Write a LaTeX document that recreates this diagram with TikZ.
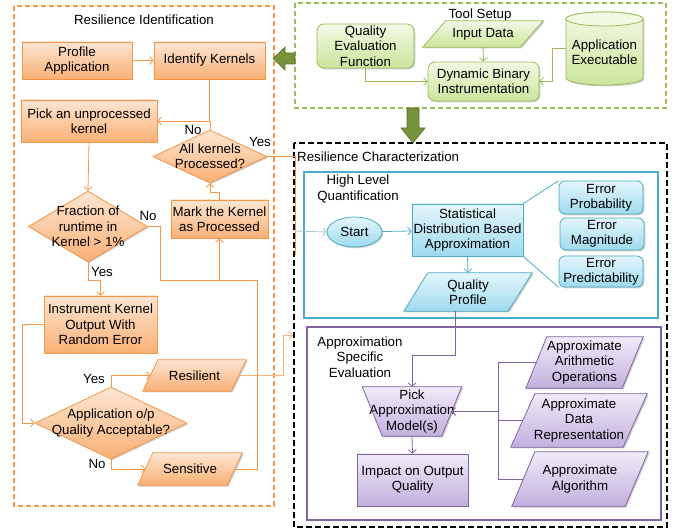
\documentclass[tikz,border=0pt]{standalone}
\usepackage{fontspec}
\setmainfont{Liberation Sans}
\usetikzlibrary{shapes.geometric,arrows.meta,shadows}
\definecolor{ob}{RGB}{247,150,70}
\definecolor{otop}{RGB}{253,230,210}
\definecolor{obot}{RGB}{249,176,118}
\definecolor{gb}{RGB}{155,187,89}
\definecolor{gtop}{RGB}{242,249,228}
\definecolor{gbot}{RGB}{204,229,156}
\definecolor{bb}{RGB}{75,172,198}
\definecolor{btop}{RGB}{228,246,252}
\definecolor{bbot}{RGB}{158,218,238}
\definecolor{pb}{RGB}{128,100,162}
\definecolor{ptop}{RGB}{240,235,248}
\definecolor{pbot}{RGB}{194,176,222}
\definecolor{garrow}{RGB}{119,147,60}
\definecolor{garrowd}{RGB}{90,114,44}
\definecolor{fade}{RGB}{170,200,210}
\newcommand{\dfont}{\fontsize{13.3pt}{15.3pt}\selectfont}
\tikzset{
  txt/.style={inner sep=0pt,align=center,font=\dfont,text=black},
  shd/.style={drop shadow={shadow xshift=1.3pt,shadow yshift=-1.3pt,opacity=0.28,fill=black!70}},
  ofill/.style={draw=ob,line width=0.8pt,top color=otop,bottom color=obot,shd},
  gfill/.style={draw=gb,line width=0.8pt,top color=gtop,bottom color=gbot,shd},
  bfill/.style={draw=bb,line width=0.8pt,top color=btop,bottom color=bbot,shd},
  pfill/.style={draw=pb,line width=0.8pt,top color=ptop,bottom color=pbot,shd},
  oline/.style={draw=ob,line width=0.8pt},
  gline/.style={draw=gb,line width=0.8pt},
  bline/.style={draw=bb,line width=0.8pt},
  pline/.style={draw=pb,line width=0.8pt},
  arr/.style={-{Straight Barb[length=3.5pt,width=8pt]}},
  frame/.style={line width=1.8pt,dash pattern=on 5pt off 3pt},
}
\newcommand{\bnode}[6]{\node[#1,inner sep=0pt,minimum width=#4pt,minimum height=#5pt] (#2) at (#3) {};
  \node[txt] (#2t) at (#2) {#6};}
\newcommand{\pgram}[7]{\node[inner sep=0pt,minimum width={(#4-#6)*1pt},minimum height=#5pt] (#2) at (#3) {};
  \path[#1] ([xshift={-#6*0.5pt}]#2.south west) -- ([xshift={#6*0.5pt}]#2.north west)
    -- ([xshift={#6*0.5pt}]#2.north east) -- ([xshift={-#6*0.5pt}]#2.south east) -- cycle;
  \node[txt] (#2t) at (#2) {#7};}
\begin{document}
\begin{tikzpicture}[x=1pt,y=-1pt]
\useasboundingbox[fill=white] (0,0) rectangle (678,529);
% frames
\draw[frame,ob] (14,6) rectangle (274,506);
\draw[frame,gb] (295,3) rectangle (666,108);
\draw[line width=2pt,dash pattern=on 6pt off 3pt,black] (294,143) rectangle (667,527);
\draw[bb,line width=1.8pt] (304,172) rectangle (658,318);
\draw[pb,line width=1.8pt] (307,327) rectangle (661,520);
\node[txt] (tRI) at (144,20) {Resilience Identification};
\node[txt] (tTS) at (480,15) {Tool Setup};
\node[txt,anchor=west] (tRC) at (297,157) {Resilience Characterization};
\node[txt] (tHL) at (358,189) {High Level\\Quantification};
\node[txt] (tAS) at (360,357) {Approximation\\Specific\\Evaluation};
% big green arrows
\filldraw[fill=garrow,draw=garrowd,line width=0.6pt] (295,53) -- (285,53) -- (285,47) -- (273,58.5) -- (285,70) -- (285,64) -- (295,64) -- cycle;
\filldraw[fill=garrow,draw=garrowd,line width=0.6pt] (407,108) -- (419,108) -- (419,128) -- (425,128) -- (413,143) -- (401,128) -- (407,128) -- cycle;
% tool setup
\bnode{gfill,rounded corners=7pt}{qef}{365.5,46}{97}{44}{Quality\\Evaluation\\Function}
\pgram{gfill}{inp}{483,34}{120}{26}{23}{Input Data}
\bnode{gfill,rounded corners=7pt}{dbi}{483.5,81.5}{111}{39}{Dynamic Binary\\Instrumentation}
\node[inner sep=0pt,minimum width=77pt,minimum height=73pt] (exe) at (604.5,48.5) {};
\path[gfill] (566,19) -- (566,78) arc[start angle=180,end angle=360,x radius=38.5pt,y radius=7pt]
  -- (643,19) arc[start angle=0,end angle=180,x radius=38.5pt,y radius=7pt] -- cycle;
\draw[gb,line width=0.8pt,fill=gtop] (604.5,19) ellipse [x radius=38.5pt,y radius=7pt];
\node[txt] (exet) at (604.5,52) {Application\\Executable};
\draw[gline,arr] (qef.south) |- (dbi.west);
\draw[gline,arr] (inp.south) -- (dbi.north);
\draw[gline,arr] (exe.west) -- ++(-13,0) |- (dbi.east);
% resilience identification
\bnode{ofill}{prof}{77,60.5}{110}{37}{Profile\\Application}
\bnode{ofill}{idk}{209.5,60.5}{111}{37}{Identify Kernels}
\bnode{ofill}{pick}{89,121}{136}{42}{Pick an unprocessed\\kernel}
\bnode{ofill,shape=diamond}{d1}{210,156.5}{114}{53}{All kernels\\Processed?}
\bnode{ofill,shape=diamond}{frac}{88,226.5}{119}{71}{Fraction of\\runtime in\\Kernel > 1\%}
\bnode{ofill}{mark}{219.5,219}{97}{38}{Mark the Kernel\\as Processed}
\bnode{ofill}{inst}{100.5,324.5}{113}{57}{Instrument Kernel\\Output With\\Random Error}
\pgram{ofill}{res}{194.5,375.5}{103}{31}{15}{Resilient}
\bnode{ofill,shape=diamond}{app}{111,423}{152}{72}{Application o/p\\Quality Acceptable?}
\pgram{ofill}{sens}{190,469}{104}{32}{15}{Sensitive}
\draw[oline,arr] (prof) -- (idk);
\draw[oline] (idk.south) -- (idk.south |- pick.east);
\draw[oline,arr] (d1.north) -- (d1.north |- pick.east) -- (pick.east);
\node[txt] (noA) at (193,130) {No};
\node[txt] (yesA) at (260,142) {Yes};
\coordinate (cYes) at (295,255);
\draw[oline] (d1.east) -| (cYes);
\draw[oline,arr] (pick.south) -- (frac.north);
\node[txt] (noB) at (148,216) {No};
\coordinate (jn) at (219.5,280);
\draw[oline] (frac.east) -| (160,280) -- (jn);
\draw[oline,arr] (sens.east) -| (257,280) -- (jn) -- (mark.south);
\draw[oline,arr] (mark.north) -- ++(0,-7) -| (d1.south);
\draw[oline,arr] (frac.south) -- ++(0,18) -| (inst.north);
\node[txt] (yesB) at (102,272) {Yes};
\draw[oline,arr] (inst.west) -- ++(-21,0) |- (app.west);
\draw[oline,arr] (app.north) |- (res.west);
\draw[oline,arr] (app.south) |- (sens.west);
\node[txt] (yesC) at (94,379) {Yes};
\node[txt] (noC) at (97,464) {No};
\coordinate (resEnd) at (293,335);
\draw[draw=ob!70,line width=0.8pt,arr] (res.east) -| (283,335) -- (resEnd);
% high level quantification
\bnode{bfill,shape=ellipse}{start}{354.5,232}{55}{30}{Start}
\bnode{bfill}{sdba}{467.5,230}{111}{52}{Statistical\\Distribution Based\\Approximation}
\bnode{bfill,rounded corners=6pt}{ep}{601,197.5}{84}{33}{Error\\Probability}
\bnode{bfill,rounded corners=6pt}{em}{602,234}{84}{32}{Error\\Magnitude}
\bnode{bfill,rounded corners=6pt}{epr}{601,271.5}{84}{31}{Error\\Predictability}
\pgram{bfill}{qp}{468,292}{128}{38}{24}{Quality\\Profile}
\coordinate (cStart) at (295,231);
\draw[draw=fade,line width=0.8pt,arr] (cStart) -- (start.west);
\draw[bline,arr] (start) -- (sdba);
\draw[bline] (sdba.north east) -- (ep.north west);
\draw[bline] (sdba.south east) -- (epr.south west);
\draw[bline,arr] (sdba.south) -- (qp.north);
% approximation specific evaluation
\node[inner sep=0pt,minimum width=79pt,minimum height=49pt] (pk) at (412,411.5) {};
\path[pfill] ([xshift=-10pt]pk.north west) -- ([xshift=10pt]pk.north east)
  -- ([xshift=-10pt]pk.south east) -- ([xshift=10pt]pk.south west) -- cycle;
\node[txt] (pkt) at (pk) {Pick\\Approximation\\Model(s)};
\bnode{pfill}{imp}{412.5,480}{111}{52}{Impact on Output\\Quality}
\pgram{pfill}{arith}{584.5,362.5}{117}{51}{21}{Approximate\\Arithmetic\\Operations}
\pgram{pfill}{data}{579,420.5}{136}{53}{24}{Approximate\\Data\\Representation}
\pgram{pfill}{algo}{580,479}{136}{54}{23}{Approximate\\Algorithm}
\coordinate (cQ) at (412,355);
\draw[pline,arr] ([xshift=-13pt]qp.south) |- (cQ) -- (pk.north);
\coordinate (bus) at (498,411.5);
\draw[pline] (arith.west) -| (bus);
\draw[pline] (data.west) -| (bus);
\draw[pline] (algo.west) -| (bus);
\draw[pline,arr] (bus) -- (pk.east);
\draw[pline,arr] (pk.south) -- (imp.north);
\end{tikzpicture}
\end{document}
